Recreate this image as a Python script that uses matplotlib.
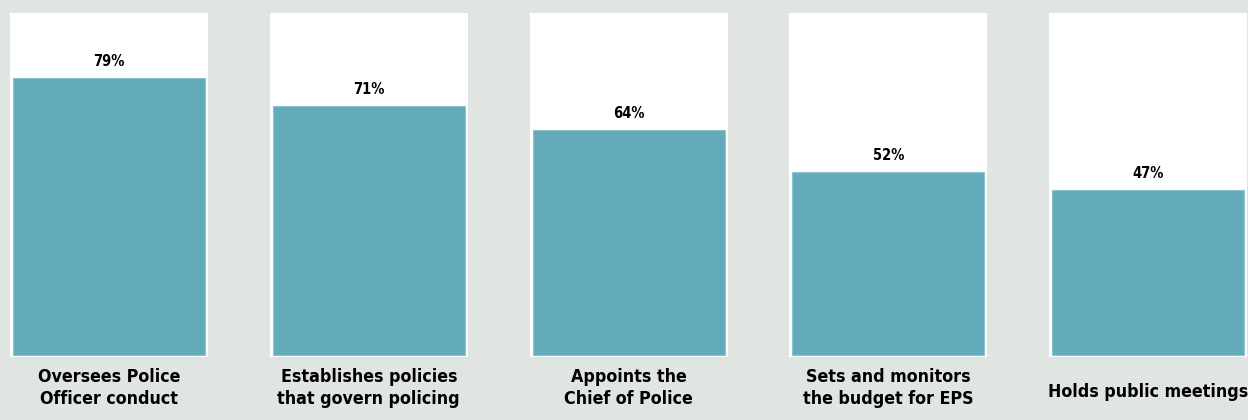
import matplotlib.pyplot as plt

plt.rcParams['font.family'] = ['DejaVu Sans']
plt.rcParams['font.stretch'] = 'condensed'

categorias = ['Oversees Police\nOfficer conduct',
              'Establishes policies\nthat govern policing',
              'Appoints the\nChief of Police',
              'Sets and monitors\nthe budget for EPS',
              'Holds public meetings']
valores = [79, 71, 64, 52, 47]

fundo = '#e1e5e1'
teal = '#63abbb'

W, H = 1248, 420
fig = plt.figure(figsize=(W / 100, H / 100), dpi=100, facecolor=fundo)

# cada painel branco é um eixo separado
for i, (cat, v) in enumerate(zip(categorias, valores)):
    x0 = 10 + i * 259.8
    ax = fig.add_axes([x0 / W, (H - 357) / H, 198 / W, 344 / H])
    ax.set_facecolor('white')
    ax.bar([0], [v], width=1, color=teal, edgecolor='#8cc4d0', linewidth=0.8)
    ax.set_xlim(-0.5 - 3 / 192, 0.5 + 3 / 192)
    ax.set_ylim(-0.57, 97.4)
    ax.annotate(f'{v}%', (0, v), xytext=(0, 6.5), textcoords='offset points',
                ha='center', va='bottom', fontsize=10.5, fontweight='bold',
                fontstretch='condensed')
    ax.set_xticks([])
    ax.set_yticks([])
    for s in ax.spines.values():
        s.set_visible(False)

    y_txt = 1 - 368 / H if '\n' in cat else 1 - 383 / H
    fig.text((x0 + 99) / W, y_txt, cat, ha='center', va='top',
             fontsize=12.8, fontweight='bold', fontstretch='condensed',
             linespacing=1.3)

plt.savefig('out.png', dpi=100, facecolor=fundo)
